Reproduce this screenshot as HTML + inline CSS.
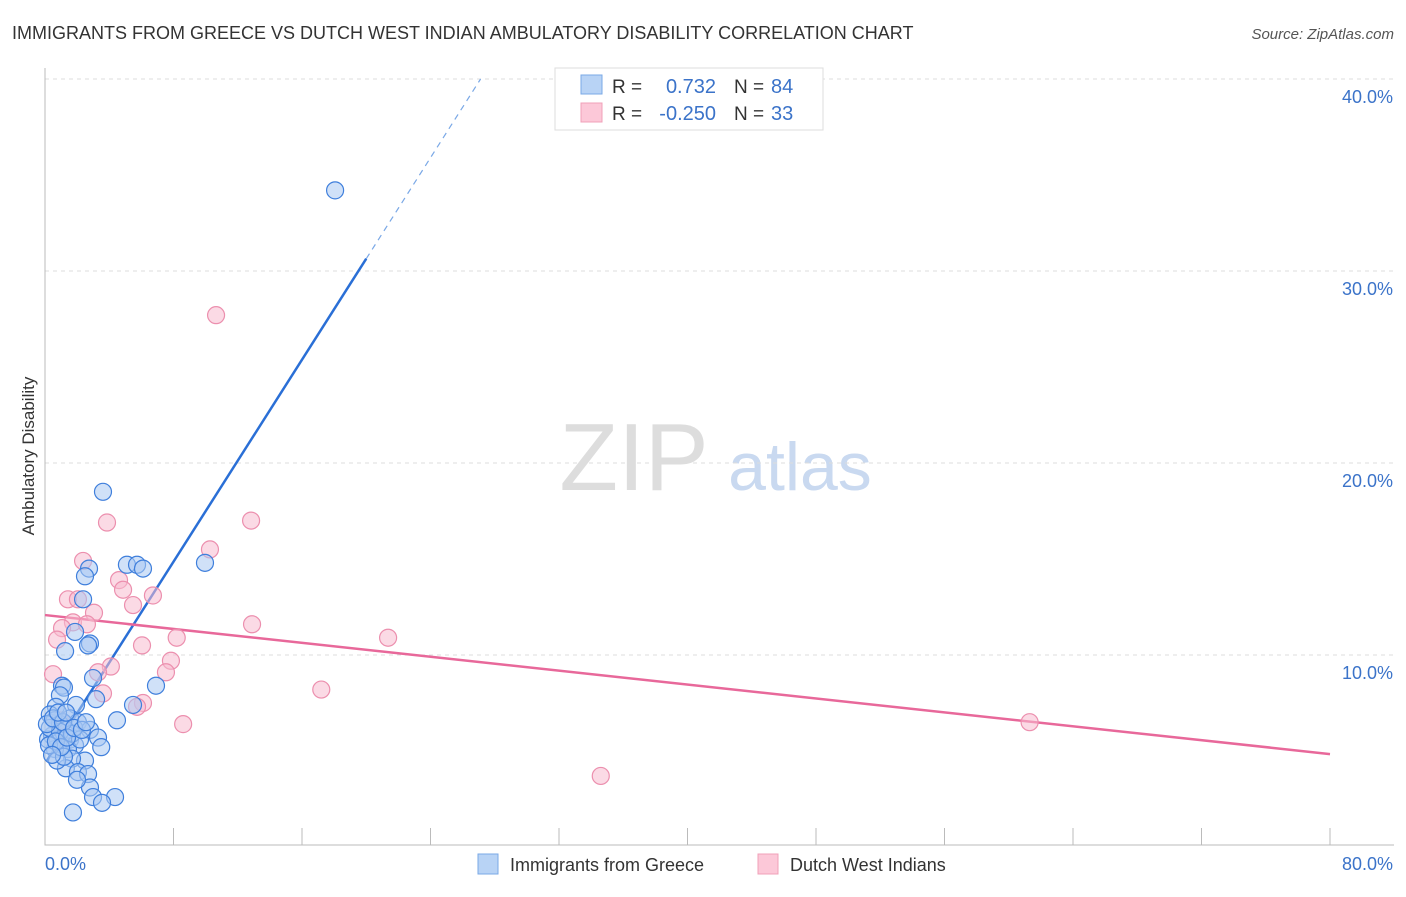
<!DOCTYPE html>
<html><head><meta charset="utf-8"><style>
body{margin:0;background:#fff;font-family:"Liberation Sans",sans-serif}
svg text{font-family:"Liberation Sans",sans-serif}
</style></head><body>
<svg id="c" width="1406" height="892" xmlns="http://www.w3.org/2000/svg">
<text x="12" y="39" font-size="18" fill="#333">IMMIGRANTS FROM GREECE VS DUTCH WEST INDIAN AMBULATORY DISABILITY CORRELATION CHART</text>
<text x="1394" y="39" font-size="15" fill="#555" text-anchor="end" font-style="italic">Source: ZipAtlas.com</text>
<text x="34" y="456" font-size="17" fill="#333" text-anchor="middle" transform="rotate(-90 34 456)">Ambulatory Disability</text>
<g><text x="634" y="490" font-size="96" fill="#ddd" text-anchor="middle" font-family="Liberation Serif">ZIP</text><text x="800" y="490" font-size="68" fill="#c9d9f0" text-anchor="middle">atlas</text></g>
<g id="grid"></g><g id="axes"></g><g id="lines"></g><g id="pts"></g>
<g>
<rect x="555" y="68" width="268" height="62" fill="#fff" stroke="#ddd"/>
<rect x="581" y="75" width="21" height="19" fill="#b8d3f5" stroke="#7aa8e6"/>
<rect x="581" y="103" width="21" height="19" fill="#fcc8d8" stroke="#f0a0b8"/>
<text x="612" y="93" font-size="19" fill="#333">R =</text><text x="716" y="93" font-size="20" fill="#3b73c9" text-anchor="end">0.732</text>
<text x="734" y="93" font-size="19" fill="#333">N =</text><text x="771" y="93" font-size="20" fill="#3b73c9">84</text>
<text x="612" y="120" font-size="19" fill="#333">R =</text><text x="716" y="120" font-size="20" fill="#3b73c9" text-anchor="end">-0.250</text>
<text x="734" y="120" font-size="19" fill="#333">N =</text><text x="771" y="120" font-size="20" fill="#3b73c9">33</text>
</g>
<g>
<rect x="478" y="854" width="20" height="20" fill="#b8d3f5" stroke="#7aa8e6"/>
<text x="510" y="871" font-size="18" fill="#333">Immigrants from Greece</text>
<rect x="758" y="854" width="20" height="20" fill="#fcc8d8" stroke="#f0a0b8"/>
<text x="790" y="871" font-size="18" fill="#333">Dutch West Indians</text>
</g>
</svg>
<script>
const yTicks=[10,20,30,40];
const yTickLabels=["10.0%","20.0%","30.0%","40.0%"];
const xTickLabels=["0.0%","80.0%"];
const blueX=[18.06,3.61,9.96,5.1,5.73,6.1,2.74,2.49,2.37,1.87,2.8,2.68,1.25,6.91,2.99,1.06,1.18,0.93,3.18,1.93,5.48,4.48,0.68,0.3,0.6,1.56,2.05,2.8,3.3,3.5,0.93,1.3,0.44,0.8,1.12,1.56,1.87,1.43,0.62,0.19,0.3,0.93,1.68,2.18,2.49,1.68,1.3,2.05,2.68,2.8,1.99,2.99,4.36,3.55,1.74,0.75,1.18,0.25,0.12,0.5,1.12,0.68,1.0,1.37,1.81,2.3,0.44,0.81,1.31,2.55];
const blueY=[34.2,18.5,14.8,14.7,14.7,14.5,14.5,14.1,12.9,11.2,10.6,10.5,10.2,8.4,8.8,8.4,8.3,7.9,7.7,7.4,7.4,6.6,7.3,6.9,6.6,6.7,6.5,6.1,5.7,5.2,6.4,6.1,5.8,5.6,5.3,5.6,5.3,5.1,5.1,5.6,6.2,6.0,5.9,5.6,4.5,4.6,4.1,3.9,3.8,3.1,3.5,2.6,2.6,2.3,1.8,4.5,4.7,5.3,6.4,6.7,6.5,5.5,5.2,5.7,6.2,6.1,4.8,7.0,7.0,6.5];
const pinkX=[10.65,3.86,12.83,10.27,2.37,4.61,4.86,6.72,1.43,2.05,5.48,3.05,1.74,2.61,1.06,12.89,0.75,8.2,21.36,6.04,0.5,7.84,4.1,3.3,7.53,17.2,3.61,6.1,5.73,8.6,61.3,34.6,0.93];
const pinkY=[27.7,16.9,17.0,15.5,14.9,13.9,13.4,13.1,12.9,12.9,12.6,12.2,11.7,11.6,11.4,11.6,10.8,10.9,10.9,10.5,9.0,9.7,9.4,9.1,9.1,8.2,8.0,7.5,7.3,6.4,6.5,3.7,6.6];
const blueFit=[1.315,4.34], pinkFit=[-0.0905,12.08];
const X=v=>45+v*1285/80, Y=v=>847-v*19.2;
const NS="http://www.w3.org/2000/svg";
function mk(parent,tag,attrs){const e=document.createElementNS(NS,tag);for(const k in attrs)e.setAttribute(k,attrs[k]);document.getElementById(parent).appendChild(e);return e;}
yTicks.forEach((t,i)=>{
 const l=mk('grid','line',{x1:45,x2:1394,y1:Y(t),y2:Y(t),stroke:'#ddd','stroke-dasharray':'4,4'});
 
 
 const tx=mk('grid','text',{x:1393,y:Y(t)+24,'font-size':18,fill:'#3b73c9','text-anchor':'end'});tx.textContent=yTickLabels[i];
 
 
});
const ax=mk('axes','path',{d:'M45,68V845H1394',stroke:'#bbb',fill:'none'});


for(let i=1;i<=10;i++){const l=mk('axes','line',{x1:X(i*8),x2:X(i*8),y1:828,y2:845,stroke:'#bbb'});
 
 }
const t0=mk('axes','text',{x:45,y:870,'font-size':18,fill:'#3b73c9'});t0.textContent=xTickLabels[0];


const t1=mk('axes','text',{x:1393,y:870,'font-size':18,fill:'#3b73c9','text-anchor':'end'});t1.textContent=xTickLabels[1];


function pts(xs,ys,fill,stroke,name){xs.forEach((x,i)=>{const c=mk('pts','circle',{cx:X(x),cy:Y(ys[i]),r:8.5,fill:fill,'fill-opacity':0.55,stroke:stroke,'stroke-width':1.2});
 
 });}
pts(pinkX,pinkY,'#f8bcd0','#ec8fae','pink-point');
pts(blueX,blueY,'#a9c9f2','#3f7fdc','blue-point');
const bEnd=(40-blueFit[1])/blueFit[0];
const bl=mk('lines','line',{x1:X(0.12),y1:Y(blueFit[0]*0.12+blueFit[1]),x2:X(20),y2:Y(blueFit[0]*20+blueFit[1]),stroke:'#2a6fd6','stroke-width':2.5});


const bd=mk('lines','line',{x1:X(20),y1:Y(blueFit[0]*20+blueFit[1]),x2:X(bEnd),y2:Y(40),stroke:'#7aa8e6','stroke-width':1.2,'stroke-dasharray':'6,5'});


const pl=mk('lines','line',{x1:X(0),y1:Y(pinkFit[1]),x2:X(80),y2:Y(pinkFit[0]*80+pinkFit[1]),stroke:'#e8689a','stroke-width':2.5});


</script>
</body></html>
